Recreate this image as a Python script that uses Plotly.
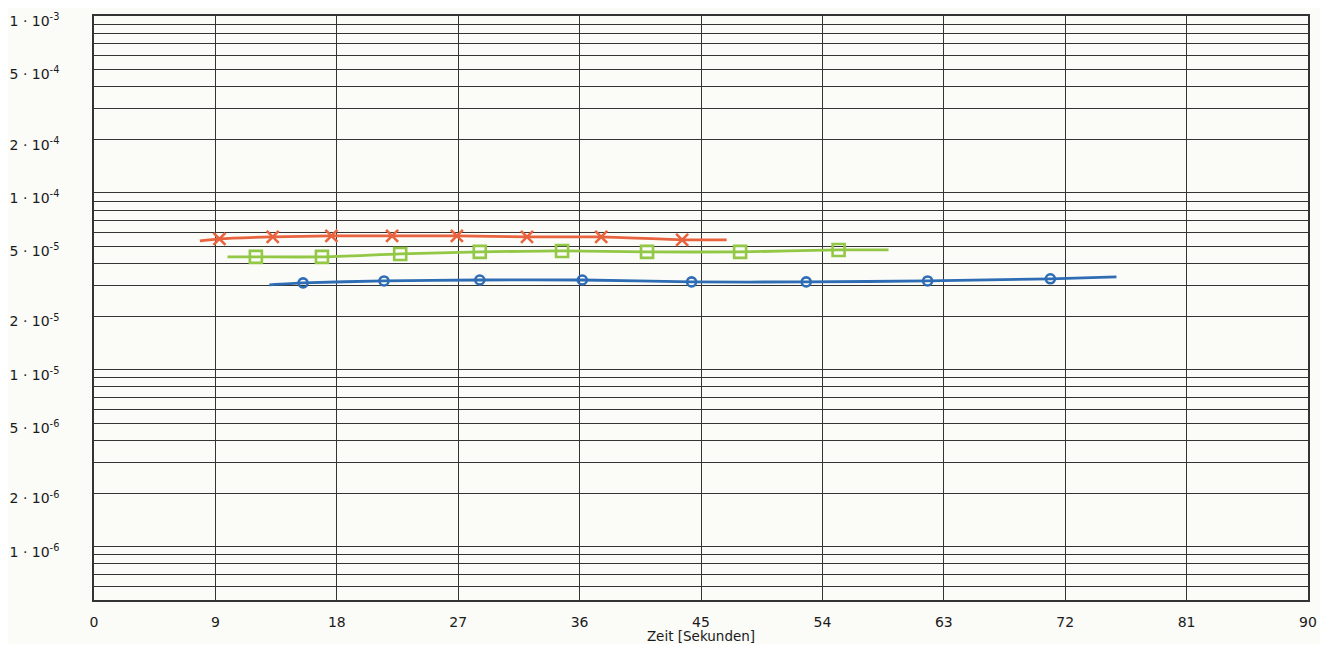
import plotly.graph_objects as go

# ---- data ----
orange_x = [9.3, 13.25, 17.6, 22.1, 26.9, 32.1, 37.6, 43.6]
orange_y = [5.50e-5, 5.64e-5, 5.72e-5, 5.72e-5, 5.72e-5, 5.64e-5, 5.64e-5, 5.43e-5]
orange_line_x = [7.85, 46.9]
orange_line_y = [5.36e-5, 5.43e-5]

green_x = [12.0, 16.9, 22.7, 28.6, 34.7, 41.0, 47.9, 55.2]
green_y = [4.35e-5, 4.35e-5, 4.52e-5, 4.64e-5, 4.70e-5, 4.64e-5, 4.64e-5, 4.76e-5]
green_line_x = [9.9, 58.9]
green_line_y = [4.35e-5, 4.76e-5]

blue_x = [15.5, 21.5, 28.6, 36.2, 44.3, 52.8, 61.8, 70.9]
blue_y = [3.10e-5, 3.18e-5, 3.22e-5, 3.22e-5, 3.14e-5, 3.14e-5, 3.18e-5, 3.27e-5]
blue_line_x = [13.0, 75.8]
blue_line_y = [3.02e-5, 3.35e-5]

x_ticks = [0, 9, 18, 27, 36, 45, 54, 63, 72, 81, 90]
y_major_vals = [1e-3, 5e-4, 2e-4, 1e-4, 5e-5, 2e-5, 1e-5, 5e-6, 2e-6, 1e-6]
y_major_text = ["1 · 10<sup>-3</sup>", "5 · 10<sup>-4</sup>", "2 · 10<sup>-4</sup>",
                "1 · 10<sup>-4</sup>", "5 · 10<sup>-5</sup>", "2 · 10<sup>-5</sup>",
                "1 · 10<sup>-5</sup>", "5 · 10<sup>-6</sup>", "2 · 10<sup>-6</sup>",
                "1 · 10<sup>-6</sup>"]
decades = [-7, -6, -5, -4, -3]
mantissas = [1, 2, 3, 4, 5, 6, 7, 8, 9]

y_minor_vals = []
for d in decades:
    for m in mantissas:
        v = m * 10.0 ** d
        if 4.99e-7 <= v <= 1.001e-3 and all(abs(v - k) / k > 1e-6 for k in y_major_vals):
            y_minor_vals.append(v)

ORANGE = "#E8633E"
GREEN = "#92C845"
BLUE = "#2E6CB4"
GRID = "#333333"

fig = go.Figure()


def full_line(lx, ly, mx, my):
    return [lx[0]] + mx + [lx[1]], [ly[0]] + my + [ly[1]]


for (lx, ly, mx, my, col, sym, size) in [
    (orange_line_x, orange_line_y, orange_x, orange_y, ORANGE, "x-thin-open", 12),
    (green_line_x, green_line_y, green_x, green_y, GREEN, "square-open", 12),
    (blue_line_x, blue_line_y, blue_x, blue_y, BLUE, "circle-open", 9),
]:
    xs, ys = full_line(lx, ly, mx, my)
    fig.add_trace(go.Scatter(x=xs, y=ys, mode="lines",
                             line=dict(color=col, width=2.8, shape="spline", smoothing=0.6),
                             showlegend=False, hoverinfo="skip"))
    fig.add_trace(go.Scatter(x=mx, y=my, mode="markers",
                             marker=dict(symbol=sym, size=size, color=col, line=dict(color=col, width=2.6)),
                             showlegend=False))

fig.update_layout(
    width=1312, height=636,
    margin=dict(l=86, r=12, t=8, b=44),
    paper_bgcolor="#FBFBF8",
    plot_bgcolor="#FBFBF8",
    font=dict(family="DejaVu Sans", size=13, color="#1a1a1a"),
    xaxis=dict(
        range=[0, 90], tickvals=x_ticks, ticktext=[str(t) for t in x_ticks],
        showgrid=True, gridcolor=GRID, gridwidth=1.3,
        showline=True, linecolor=GRID, linewidth=1.6, mirror=True,
        zeroline=False, ticks="", ticklabelstandoff=8, automargin=False,
        tickfont=dict(size=14),
        title=dict(text="Zeit [Sekunden]", font=dict(size=13.5), standoff=3),
    ),
    yaxis=dict(
        type="log", range=[-6.301, -3.0], tickvals=y_major_vals, ticktext=y_major_text,
        showgrid=True, gridcolor=GRID, gridwidth=1.3,
        minor=dict(tickvals=y_minor_vals, showgrid=True, gridcolor=GRID, gridwidth=1.3, ticks=""),
        showline=True, linecolor=GRID, linewidth=1.6, mirror=True,
        zeroline=False, ticks="", ticklabelstandoff=30, automargin=False,
        ticklabeloverflow="allow", ticklabelshift=5,
        tickfont=dict(size=14),
    ),
)

fig.write_html("out.html")
